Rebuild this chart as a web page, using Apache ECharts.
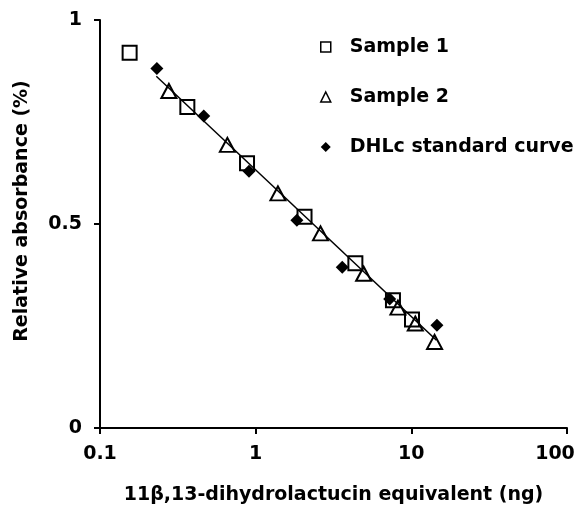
<!DOCTYPE html>
<html>
<head>
<meta charset="utf-8">
<script src="https://cdn.jsdelivr.net/npm/echarts@6/dist/echarts.min.js"></script>
<style>
  html, body { margin: 0; padding: 0; background: #fff; }
  #chart { width: 579px; height: 506px; }
</style>
</head>
<body>
<div id="chart"></div>
<script>
// values: x = ng equivalent (log), y = relative absorbance
const sample1X = [0.155, 0.364, 0.88, 2.06, 4.37, 7.62, 10.1]
const sample1Y = [0.920, 0.787, 0.649, 0.518, 0.404, 0.313, 0.266]

const sample2X = [0.277, 0.658, 1.39, 2.61, 4.94, 8.2, 10.6, 14.1]
const sample2Y = [0.826, 0.694, 0.575, 0.477, 0.378, 0.295, 0.256, 0.211]

const standardX = [0.232, 0.464, 0.906, 1.84, 3.60, 7.26, 14.6]
const standardY = [0.881, 0.765, 0.629, 0.509, 0.394, 0.316, 0.252]

// fitted line ends
const fitX = [0.23, 14.5]
const fitY = [0.862, 0.215]

const yTicks = [0, 0.5, 1]

const font = 'DejaVu Sans'
const zip = (xs, ys) => xs.map((x, i) => [x, ys[i]])

const chart = echarts.init(document.getElementById('chart'))

chart.setOption({
  animation: false,
  backgroundColor: '#fff',
  textStyle: { fontFamily: font },
  grid: {
    left: 100,
    right: 12,
    top: 20,
    bottom: 78,
    containLabel: false,
    outerBoundsMode: 'none',
  },
  legend: {
    orient: 'vertical',
    left: 320,
    top: 37,
    padding: 0,
    itemGap: 30,
    itemWidth: 10,
    itemHeight: 10,
    textStyle: {
      fontFamily: font,
      fontWeight: 'bold',
      fontSize: 19,
      lineHeight: 20,
      color: '#000',
      padding: [0, 0, 0, 14],
    },
    data: [
      { name: 'Sample 1', icon: 'rect', itemStyle: { color: '#fff', borderColor: '#000', borderWidth: 1.5 } },
      { name: 'Sample 2', icon: 'triangle', itemStyle: { color: '#fff', borderColor: '#000', borderWidth: 1.5 } },
      { name: 'DHLc standard curve', icon: 'diamond', itemStyle: { color: '#000', borderWidth: 0 } },
    ],
  },
  xAxis: {
    type: 'log',
    logBase: 10,
    min: 0.1,
    max: 100,
    name: '11β,13-dihydrolactucin equivalent (ng)',
    nameLocation: 'middle',
    nameGap: 58,
    nameTextStyle: { fontFamily: font, fontWeight: 'bold', fontSize: 19, color: '#000' },
    axisLine: { lineStyle: { color: '#000', width: 2 } },
    axisTick: { show: true, inside: false, length: 6, lineStyle: { color: '#000', width: 2 } },
    minorTick: { show: false },
    axisLabel: {
      margin: 17,
      fontFamily: font,
      fontWeight: 'bold',
      fontSize: 19,
      color: '#000',
      showMinLabel: true,
      showMaxLabel: true,
      // last label is pulled in from the edge, as in the source figure
      formatter: (v) => (v >= 100 ? '{last|' + v + '}' : String(v)),
      rich: {
        last: {
          fontFamily: font,
          fontWeight: 'bold',
          fontSize: 19,
          color: '#000',
          padding: [0, 24, 0, 0],
        },
      },
    },
    splitLine: { show: false },
  },
  yAxis: {
    type: 'value',
    min: yTicks[0],
    max: yTicks[yTicks.length - 1],
    interval: 0.5,
    name: 'Relative absorbance (%)',
    nameLocation: 'middle',
    nameGap: 68,
    nameTextStyle: {
      fontFamily: font,
      fontWeight: 'bold',
      fontSize: 19,
      color: '#000',
      padding: [0, 0, 0, 26],
    },
    axisLine: { show: true, lineStyle: { color: '#000', width: 2 } },
    axisTick: { show: true, inside: false, length: 6, lineStyle: { color: '#000', width: 2 } },
    axisLabel: {
      margin: 18,
      fontFamily: font,
      fontWeight: 'bold',
      fontSize: 19,
      color: '#000',
      formatter: (v) => String(v),
    },
    splitLine: { show: false },
  },
  series: [
    {
      name: 'fit',
      type: 'line',
      data: zip(fitX, fitY),
      symbol: 'none',
      lineStyle: { color: '#000', width: 1.5 },
      z: 1,
      silent: true,
    },
    {
      name: 'DHLc standard curve',
      type: 'scatter',
      data: zip(standardX, standardY),
      symbol: 'diamond',
      symbolSize: 13,
      itemStyle: { color: '#000', opacity: 1 },
      z: 2,
    },
    {
      name: 'Sample 1',
      type: 'scatter',
      data: zip(sample1X, sample1Y),
      symbol: 'rect',
      symbolSize: 14,
      itemStyle: { color: 'rgba(255,255,255,0)', borderColor: '#000', borderWidth: 2, opacity: 1 },
      z: 3,
    },
    {
      name: 'Sample 2',
      type: 'scatter',
      data: zip(sample2X, sample2Y),
      symbol: 'triangle',
      symbolSize: [15, 14],
      itemStyle: { color: 'rgba(255,255,255,0)', borderColor: '#000', borderWidth: 2, opacity: 1 },
      z: 4,
    },
  ],
})
</script>
</body>
</html>
